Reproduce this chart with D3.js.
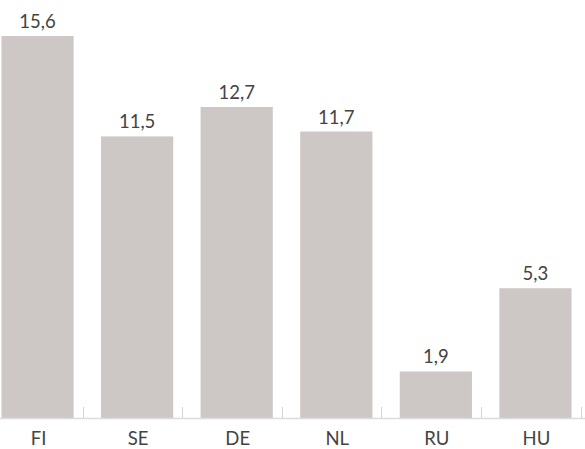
<!DOCTYPE html>
<html><head><meta charset="utf-8">
<script src="https://cdn.jsdelivr.net/npm/d3@7"></script>
<style>body{margin:0;background:#fff}</style>
</head><body>
<svg id="c" width="585" height="449"></svg>
<script>
const categories = ["FI","SE","DE","NL","RU","HU"];
const values = [15.6, 11.5, 12.7, 11.7, 1.9, 5.3];
const valueLabels = ["15,6","11,5","12,7","11,7","1,9","5,3"];

const svg = d3.select("#c");
const baseY = 418;
const x = d3.scaleBand().domain(categories).range([-12, 585]).paddingInner(0.275).paddingOuter(0.135);
const y = d3.scaleLinear().domain([0, 15.6]).range([baseY, 36]);

svg.selectAll("rect.bar").data(values).enter().append("rect")
  .attr("x", (d,i)=>x(categories[i]))
  .attr("width", x.bandwidth())
  .attr("y", d=>y(d))
  .attr("height", d=>baseY - y(d))
  .attr("fill", "#cdc8c5");

svg.selectAll("text.val").data(values).enter().append("text")
  .attr("x", (d,i)=>x(categories[i]) + x.bandwidth()/2)
  .attr("y", d=>y(d) - 8)
  .attr("text-anchor","middle")
  .attr("font-family","Lato, 'Open Sans', sans-serif")
  .attr("font-size", 18.5)
  .attr("fill","#444")
  .text((d,i)=>valueLabels[i]);

// axis
svg.append("line").attr("x1",0).attr("x2",585).attr("y1",baseY+0.5).attr("y2",baseY+0.5)
  .attr("stroke","#dcdcdc").attr("stroke-width",1.5);
categories.forEach((c,i)=>{
  const tx = Math.round(x(c) + x.bandwidth() + x.step()*0.09) + 0.5;
  svg.append("line").attr("x1",tx).attr("x2",tx).attr("y1",baseY-11).attr("y2",baseY)
    .attr("stroke","#d4d4d4").attr("stroke-width",1);
});
svg.selectAll("text.cat").data(categories).enter().append("text")
  .attr("x", d=>x(d) + x.bandwidth()/2 + 1)
  .attr("y", 445)
  .attr("text-anchor","middle")
  .attr("font-family","Lato, 'Open Sans', sans-serif")
  .attr("font-size", 18.5)
  .attr("fill","#444")
  .text(d=>d);
</script>
</body></html>
